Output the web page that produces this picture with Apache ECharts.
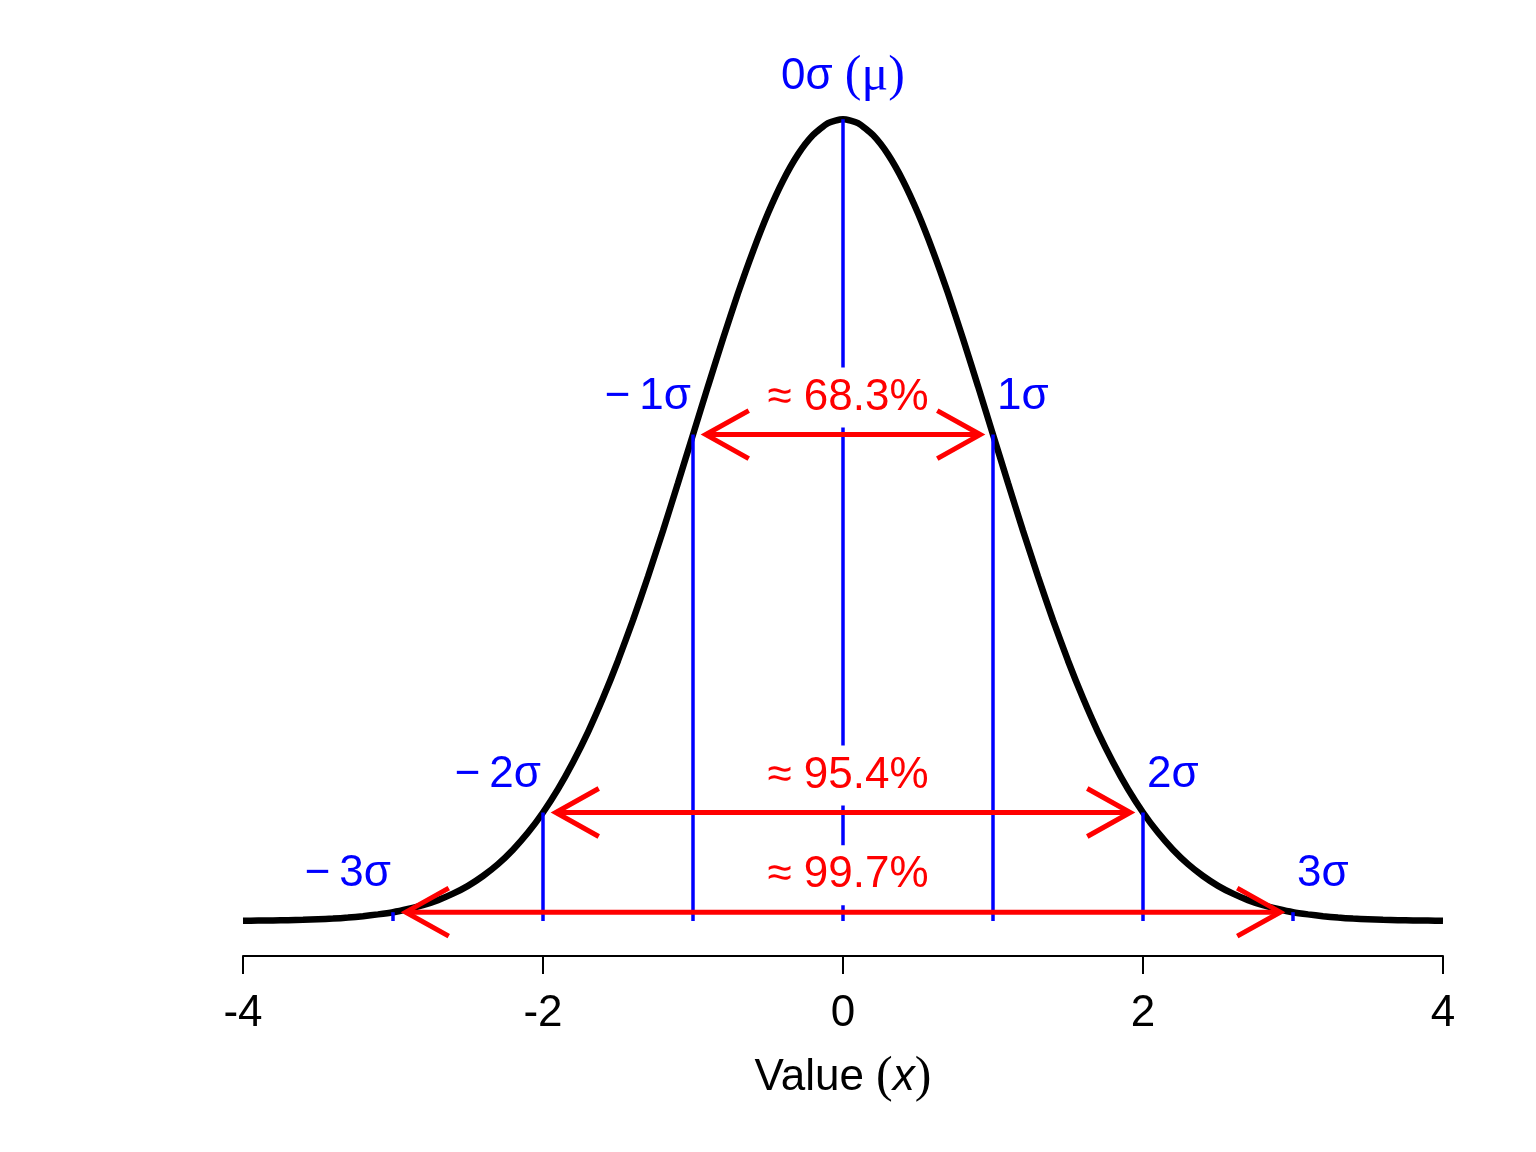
<!DOCTYPE html>
<html lang="en">
<head>
    <meta charset="UTF-8">
    <title>Normal distribution - 68/95/99.7 rule</title>
    <script src="https://cdn.jsdelivr.net/npm/echarts@6/dist/echarts.min.js"></script>
    <style>
        html, body { margin: 0; padding: 0; background: #fff; }
        #chart { width: 1536px; height: 1152px; }
    </style>
</head>
<body>
    <div id="chart"></div>
    <script>
        // density curve (step 0.1)
        const curveX = [-4.0, -3.9, -3.8, -3.7, -3.6, -3.5, -3.4, -3.3, -3.2, -3.1,
                        -3.0, -2.9, -2.8, -2.7, -2.6, -2.5, -2.4, -2.3, -2.2, -2.1,
                        -2.0, -1.9, -1.8, -1.7, -1.6, -1.5, -1.4, -1.3, -1.2, -1.1,
                        -1.0, -0.9, -0.8, -0.7, -0.6, -0.5, -0.4, -0.3, -0.2, -0.1,
                        0.0, 0.1, 0.2, 0.3, 0.4, 0.5, 0.6, 0.7, 0.8, 0.9,
                        1.0, 1.1, 1.2, 1.3, 1.4, 1.5, 1.6, 1.7, 1.8, 1.9,
                        2.0, 2.1, 2.2, 2.3, 2.4, 2.5, 2.6, 2.7, 2.8, 2.9,
                        3.0, 3.1, 3.2, 3.3, 3.4, 3.5, 3.6, 3.7, 3.8, 3.9, 4.0];
        const curveY = [0.0001, 0.0002, 0.0003, 0.0004, 0.0006, 0.0009, 0.0012, 0.0017, 0.0024, 0.0033,
                        0.0044, 0.0060, 0.0079, 0.0104, 0.0136, 0.0175, 0.0224, 0.0283, 0.0355, 0.0440,
                        0.0540, 0.0656, 0.0790, 0.0940, 0.1109, 0.1295, 0.1497, 0.1714, 0.1942, 0.2179,
                        0.2420, 0.2661, 0.2897, 0.3123, 0.3332, 0.3521, 0.3683, 0.3814, 0.3910, 0.3970,
                        0.3989, 0.3970, 0.3910, 0.3814, 0.3683, 0.3521, 0.3332, 0.3123, 0.2897, 0.2661,
                        0.2420, 0.2179, 0.1942, 0.1714, 0.1497, 0.1295, 0.1109, 0.0940, 0.0790, 0.0656,
                        0.0540, 0.0440, 0.0355, 0.0283, 0.0224, 0.0175, 0.0136, 0.0104, 0.0079, 0.0060,
                        0.0044, 0.0033, 0.0024, 0.0017, 0.0012, 0.0009, 0.0006, 0.0004, 0.0003, 0.0002, 0.0001];

        // sigma lines
        const sigmaX = [-3, -2, -1, 0, 1, 2, 3];
        const sigmaTop = [0.0044, 0.0540, 0.2420, 0.3989, 0.2420, 0.0540, 0.0044];
        const sigmaText = ['\u2212\u20093\u03c3', '\u2212\u20092\u03c3', '\u2212\u20091\u03c3', '0\u03c3', '1\u03c3', '2\u03c3', '3\u03c3'];

        // coverage arrows
        const arrowFrom = [-0.915, -1.915, -2.915];
        const arrowTo = [0.915, 1.915, 2.915];
        const arrowY = [0.2420, 0.0540, 0.0044];
        const arrowText = ['\u2248 68.3%', '\u2248 95.4%', '\u2248 99.7%'];

        const xTicks = [-4, -2, 0, 2, 4];

        const FONT = '"Liberation Sans", Arial, sans-serif';
        const SERIF = '"Liberation Serif", "Times New Roman", serif';
        const FS = 44;

        const chart = echarts.init(document.getElementById('chart'), null, { renderer: 'canvas' });

        chart.setOption({
            animation: false,
            backgroundColor: '#fff',
            grid: { left: 243, right: 93, top: 75, bottom: 196 },
            xAxis: {
                type: 'value',
                min: xTicks[0],
                max: xTicks[xTicks.length - 1],
                interval: 2,
                splitLine: { show: false },
                axisLine: { show: true, onZero: false, lineStyle: { color: '#000', width: 2 } },
                axisTick: { show: true, length: 18, lineStyle: { color: '#000', width: 2 } },
                axisLabel: { color: '#000', fontSize: FS, fontFamily: FONT, margin: 36 },
                name: '{a|Value }{p|(}{i|x}{p|)}',
                nameLocation: 'middle',
                nameGap: 97,
                nameTextStyle: {
                    rich: {
                        a: { fontSize: FS, fontFamily: FONT, color: '#000' },
                        i: { fontSize: FS, fontFamily: FONT, fontStyle: 'italic', color: '#000' },
                        p: { fontSize: 50, fontFamily: SERIF, color: '#000' }
                    }
                }
            },
            yAxis: { type: 'value', show: false, min: -0.0174, max: 0.4209 },
            series: [
                {
                    type: 'line',
                    data: curveX.map((x, i) => [x, curveY[i]]),
                    smooth: 0.2,
                    symbol: 'none',
                    lineStyle: { color: '#000', width: 6.5 },
                    z: 2
                },
                {
                    // blue sigma lines
                    type: 'custom',
                    coordinateSystem: 'cartesian2d',
                    data: sigmaX.map((x, i) => [x, sigmaTop[i]]),
                    clip: false,
                    z: 3,
                    renderItem: function (params, api) {
                        const p0 = api.coord([api.value(0), 0]);
                        const p1 = api.coord([api.value(0), api.value(1)]);
                        return {
                            type: 'line',
                            shape: { x1: p0[0], y1: p0[1], x2: p1[0], y2: p1[1] },
                            style: { stroke: '#0000ff', lineWidth: 3.5 }
                        };
                    }
                },
                {
                    // blue sigma labels
                    type: 'custom',
                    coordinateSystem: 'cartesian2d',
                    data: sigmaX.map((x, i) => [x, sigmaTop[i]]),
                    clip: false,
                    z: 4,
                    renderItem: function (params, api) {
                        const i = params.dataIndex;
                        const x = api.value(0);
                        const p = api.coord([x, api.value(1)]);
                        if (x === 0) {
                            return {
                                type: 'text',
                                x: p[0], y: p[1] - 42,
                                style: {
                                    text: '{a|' + sigmaText[i] + ' }{b|(\u03bc)}',
                                    align: 'center', verticalAlign: 'middle',
                                    rich: {
                                        a: { fontSize: FS, fontFamily: FONT, fill: '#0000ff', color: '#0000ff' },
                                        b: { fontSize: 50, fontFamily: SERIF, fill: '#0000ff', color: '#0000ff' }
                                    }
                                }
                            };
                        }
                        return {
                            type: 'text',
                            x: x < 0 ? p[0] - 2 : p[0] + 4,
                            y: p[1] - 38,
                            style: {
                                text: sigmaText[i],
                                fill: '#0000ff',
                                fontSize: FS,
                                fontFamily: FONT,
                                align: x < 0 ? 'right' : 'left',
                                verticalAlign: 'middle'
                            }
                        };
                    }
                },
                {
                    // red coverage text with white box
                    type: 'custom',
                    coordinateSystem: 'cartesian2d',
                    data: arrowY.map((y, i) => [0, y]),
                    clip: false,
                    z: 5,
                    renderItem: function (params, api) {
                        const p = api.coord([api.value(0), api.value(1)]);
                        return {
                            type: 'text',
                            x: p[0] + 5, y: p[1] - 37,
                            style: {
                                text: arrowText[params.dataIndex],
                                fill: '#ff0000',
                                fontSize: FS,
                                fontFamily: FONT,
                                align: 'center',
                                verticalAlign: 'middle',
                                backgroundColor: '#fff',
                                padding: [2, 10, 14, 10]
                            }
                        };
                    }
                },
                {
                    // red arrows
                    type: 'custom',
                    coordinateSystem: 'cartesian2d',
                    data: arrowY.map((y, i) => [arrowFrom[i], arrowTo[i], y]),
                    clip: false,
                    z: 6,
                    renderItem: function (params, api) {
                        const a = api.coord([api.value(0), api.value(2)]);
                        const b = api.coord([api.value(1), api.value(2)]);
                        const hx = 43, hy = 24;
                        const st = { stroke: '#ff0000', lineWidth: 5, fill: null, lineJoin: 'miter' };
                        return {
                            type: 'group',
                            children: [
                                { type: 'line', shape: { x1: a[0], y1: a[1], x2: b[0], y2: b[1] }, style: st },
                                { type: 'polyline', shape: { points: [[a[0] + hx, a[1] - hy], [a[0], a[1]], [a[0] + hx, a[1] + hy]] }, style: st },
                                { type: 'polyline', shape: { points: [[b[0] - hx, b[1] - hy], [b[0], b[1]], [b[0] - hx, b[1] + hy]] }, style: st }
                            ]
                        };
                    }
                }
            ]
        });
    </script>
</body>
</html>
